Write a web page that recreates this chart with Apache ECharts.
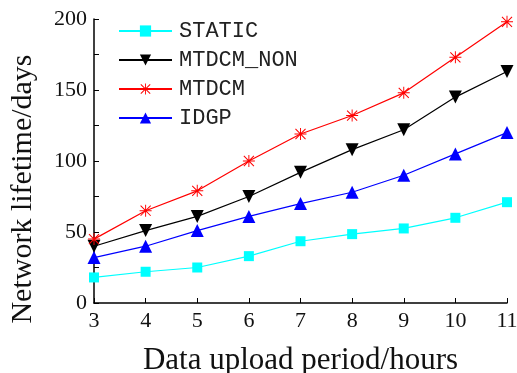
<!DOCTYPE html>
<html>
<head>
<meta charset="utf-8">
<script src="https://cdn.jsdelivr.net/npm/echarts@6/dist/echarts.min.js"></script>
<style>
  html, body { margin: 0; padding: 0; background: #fff; }
  #chart { width: 517px; height: 373px; }
</style>
</head>
<body>
<div id="chart"></div>
<script>
// data
const periods = [3, 4, 5, 6, 7, 8, 9, 10, 11];
const staticData = [18, 22, 25, 33, 43.5, 48.5, 52.5, 60, 71];
const mtdcmNon = [40, 51, 61, 75, 92, 108, 122, 145, 163];
const mtdcm = [45, 65, 79, 100, 119, 132, 148, 173, 198];
const idgp = [32, 40, 51, 61, 70, 78, 90, 105, 120];
const yTicks = [0, 50, 100, 150, 200];

const asterisk = 'path://M4.6 0L5.4 0L5.4 10L4.6 10Z' +
  'M0 4.6L10 4.6L10 5.4L0 5.4Z' +
  'M0.5 1.1L1.1 0.5L9.5 8.9L8.9 9.5Z' +
  'M8.9 0.5L9.5 1.1L1.1 9.5L0.5 8.9Z';

const pairs = (ys) => periods.map((x, i) => [x, ys[i]]);

const serif = 'Liberation Serif';

const chart = echarts.init(document.getElementById('chart'));

chart.setOption({
  animation: false,
  backgroundColor: '#fff',
  grid: {
    left: 94,
    right: 10,
    top: 19,
    bottom: 70,
    containLabel: false,
    outerBoundsMode: 'none',
  },
  legend: {
    orient: 'vertical',
    left: 113,
    top: 15,
    itemWidth: 53,
    itemHeight: 14,
    itemGap: 7,
    textStyle: {
      fontFamily: 'Liberation Mono',
      fontSize: 22,
      lineHeight: 22,
      color: '#222',
      padding: [0, 0, 0, 2],
    },
    data: ['STATIC', 'MTDCM_NON', 'MTDCM', 'IDGP'],
  },
  xAxis: {
    type: 'value',
    min: 3,
    max: 11,
    interval: 1,
    name: 'Data upload period/hours',
    nameLocation: 'middle',
    nameGap: 42,
    nameTextStyle: { fontFamily: serif, fontSize: 31, color: '#111' },
    axisLine: { lineStyle: { color: '#000', width: 1.5 } },
    axisTick: { inside: true, length: 5, lineStyle: { color: '#000' } },
    axisLabel: { fontFamily: serif, fontSize: 22, color: '#111', margin: 7 },
    splitLine: { show: false },
  },
  yAxis: {
    type: 'value',
    min: 0,
    max: 200,
    interval: 25,
    name: 'Network lifetime/days',
    nameLocation: 'middle',
    nameGap: 56,
    nameTextStyle: {
      fontFamily: serif,
      fontSize: 30,
      color: '#111',
      padding: [0, 56, 0, 0],
    },
    axisLine: { show: true, lineStyle: { color: '#000', width: 1.5 } },
    axisTick: { show: true, inside: true, length: 5, lineStyle: { color: '#000' } },
    axisLabel: {
      fontFamily: serif,
      fontSize: 22,
      color: '#111',
      margin: 7,
      formatter: (v) => (yTicks.includes(v) ? String(v) : ''),
    },
    splitLine: { show: false },
  },
  series: [
    {
      name: 'STATIC',
      type: 'line',
      data: pairs(staticData),
      symbol: 'rect',
      symbolSize: 10,
      lineStyle: { color: '#00ffff', width: 1.2 },
      itemStyle: { color: '#00ffff' },
    },
    {
      name: 'MTDCM_NON',
      type: 'line',
      data: pairs(mtdcmNon),
      symbol: 'triangle',
      symbolRotate: 180,
      symbolSize: 13,
      lineStyle: { color: '#000', width: 1.2 },
      itemStyle: { color: '#000' },
    },
    {
      name: 'MTDCM',
      type: 'line',
      data: pairs(mtdcm),
      symbol: asterisk,
      symbolSize: 12,
      lineStyle: { color: '#ff0000', width: 1.2 },
      itemStyle: { color: '#ff0000' },
    },
    {
      name: 'IDGP',
      type: 'line',
      data: pairs(idgp),
      symbol: 'triangle',
      symbolSize: 13,
      lineStyle: { color: '#0000ff', width: 1.2 },
      itemStyle: { color: '#0000ff' },
    },
  ],
});
</script>
</body>
</html>
